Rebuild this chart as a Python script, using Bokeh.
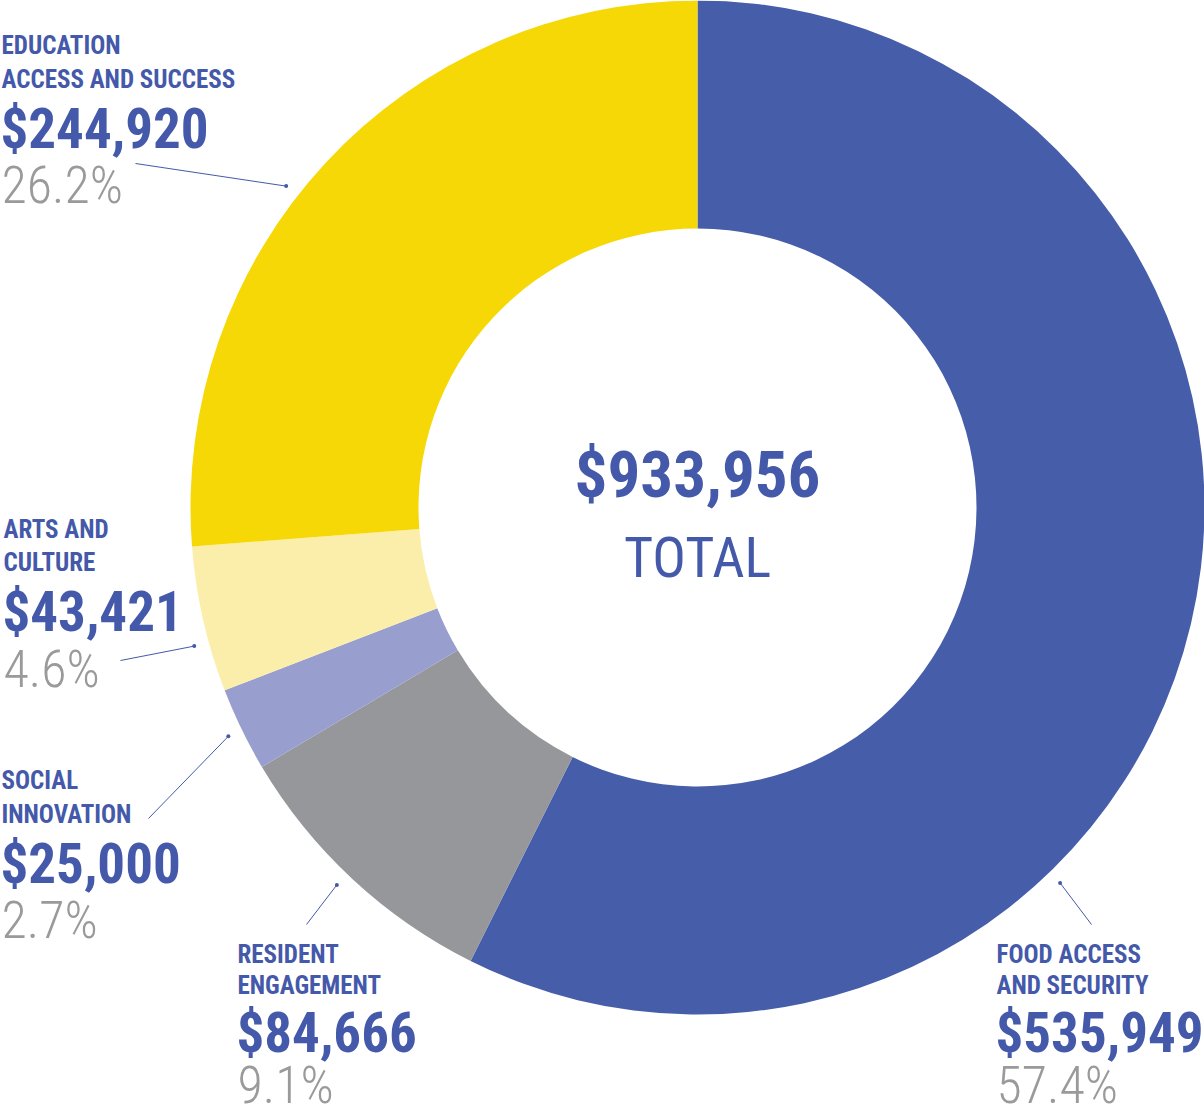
from bokeh.plotting import figure
from bokeh.models import Range1d, ColumnDataSource
from bokeh.core.properties import value
from bokeh.embed import file_html
from bokeh.resources import INLINE
import numpy as np

# Funding by focus area (clockwise from 12 o'clock)
categories = [
    ["FOOD ACCESS", "AND SECURITY"],
    ["RESIDENT", "ENGAGEMENT"],
    ["SOCIAL", "INNOVATION"],
    ["ARTS AND", "CULTURE"],
    ["EDUCATION", "ACCESS AND SUCCESS"],
]
amounts = [535949, 84666, 25000, 43421, 244920]
colors = ["#465DAA", "#96979B", "#989FCF", "#FBEEAA", "#F6D807"]

total = sum(amounts)
dollar_labels = [f"${v:,}" for v in amounts]
pct_labels = [f"{v / total * 100:.1f}%" for v in amounts]

W, H = 1204, 1118
BLUE = "#4459A9"
GREY = "#9A9A9A"
FONT = value("'Roboto Condensed', 'Liberation Sans Narrow', Roboto, sans-serif")
FONT_LIGHT = value("'Roboto Condensed Light', 'Roboto Condensed', Roboto, sans-serif")

p = figure(width=W, height=H, x_range=Range1d(0, W), y_range=Range1d(0, H),
           output_backend="svg", toolbar_location=None, min_border=0)
p.axis.visible = False
p.grid.visible = False
p.outline_line_color = None
p.background_fill_color = "white"

cx, cy = 697, H - 507
r_in, r_out = 279, 507

frac = np.array(amounts) / total * 360.0
cum = np.concatenate([[0.0], np.cumsum(frac)])
src = ColumnDataSource(dict(
    start=90.0 - cum[:-1],
    end=90.0 - cum[1:],
    color=colors,
))
p.annular_wedge(x=cx, y=cy, inner_radius=r_in, outer_radius=r_out,
                start_angle="start", end_angle="end",
                start_angle_units="deg", end_angle_units="deg",
                direction="clock", fill_color="color", line_color=None, source=src)


def put(x, base, txt, size, color, font=FONT, bold=False, align="left"):
    """Place a single line so that its baseline sits at screen row `base`."""
    y = H - (base - 0.34 * size)
    p.text(x=[x], y=[y], text=[txt], text_font=font,
           text_font_style="bold" if bold else "normal",
           text_font_size=f"{size}px", text_color=color,
           text_align=align, text_baseline="alphabetic")


# Centre total
put(cx, 497, f"${total:,}", 65, BLUE, bold=True, align="center")
put(cx, 577, "TOTAL", 56, BLUE, align="center")

# Label blocks: left x and the baselines of the four lines (screen px)
label_x = [996, 237, 1, 3, 1]
label_rows = [
    (962, 993, 1051, 1103),
    (962, 993, 1051, 1103),
    (788, 822, 882, 938),
    (537, 570, 630, 687),
    (53, 87, 147, 203),
]
# Leader lines: dot angle (deg) on ring, far end in screen px
leader_angle = [-46.0, -133.7, -154.0, -164.6, 142.0]
leader_end = [(1091, 924), (306, 924), (148, 818), (120, 660), (135, 163)]
r_dot = 522

for i in range(len(amounts)):
    lx = label_x[i]
    b1, b2, b3, b4 = label_rows[i]
    t1, t2 = categories[i]
    put(lx, b1, t1, 25, BLUE, bold=True)
    put(lx, b2, t2, 25, BLUE, bold=True)
    put(lx - 1, b3, dollar_labels[i], 55, BLUE, bold=True)
    put(lx, b4, pct_labels[i], 52, GREY, font=FONT_LIGHT)

    a = np.deg2rad(leader_angle[i])
    dx, dy = cx + r_dot * np.cos(a), cy + r_dot * np.sin(a)
    ex, ey = leader_end[i]
    p.line(x=[dx, ex], y=[dy, H - ey], line_color=BLUE, line_width=1)
    p.scatter(x=[dx], y=[dy], size=4, fill_color=BLUE, line_color=None)

open("out.html", "w").write(file_html(p, INLINE))
